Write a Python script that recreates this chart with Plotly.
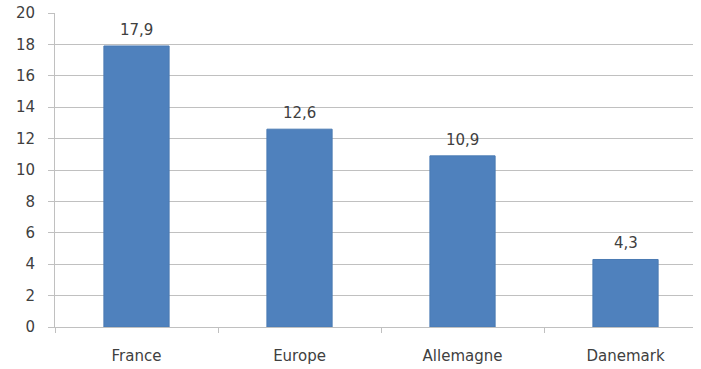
import plotly.graph_objects as go

categories = ["France", "Europe", "Allemagne", "Danemark"]
values = [17.9, 12.6, 10.9, 4.3]
value_labels = ["17,9", "12,6", "10,9", "4,3"]
y_ticks = [0, 2, 4, 6, 8, 10, 12, 14, 16, 18, 20]

font_family = "DejaVu Sans, sans-serif"
text_color = "#404040"
grid_color = "#c0c0c0"

fig = go.Figure()
fig.add_trace(go.Bar(
    x=categories, y=values,
    marker=dict(color="#4f81bd", line=dict(color="#4a7ab3", width=1)),
    width=0.40,
    hoverinfo="skip",
))

for c, v, t in zip(categories, values, value_labels):
    fig.add_annotation(x=c, y=v, text=t, showarrow=False, yanchor="bottom",
                       yshift=5, font=dict(family=font_family, size=15, color=text_color))

fig.update_layout(
    width=701, height=369,
    margin=dict(l=55, r=8, t=13, b=42),
    plot_bgcolor="white", paper_bgcolor="white",
    showlegend=False,
    font=dict(family=font_family, size=15, color=text_color),
)
fig.update_xaxes(
    type="category", range=[-0.5, 3.414], showgrid=False, showline=True,
    linecolor=grid_color, linewidth=1, automargin=False,
    ticks="outside", tickson="boundaries", ticklen=5, tickcolor=grid_color,
    ticklabelstandoff=15,
    tickfont=dict(family=font_family, size=15, color=text_color),
    zeroline=False,
)
fig.update_yaxes(
    range=[0, 20], tickvals=y_ticks, showgrid=True, gridcolor=grid_color, gridwidth=1,
    showline=True, linecolor=grid_color, linewidth=1, automargin=False,
    ticks="outside", ticklen=6, tickcolor=grid_color,
    ticklabelstandoff=10,
    tickfont=dict(family=font_family, size=15, color=text_color),
    zeroline=False,
)

fig.write_html("out.html")
